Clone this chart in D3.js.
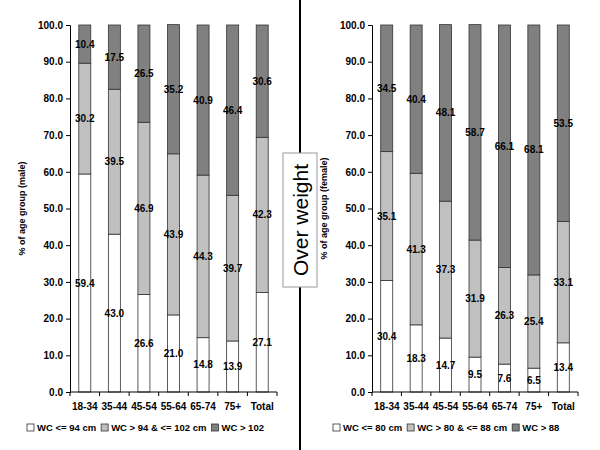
<!DOCTYPE html>
<html>
<head>
<meta charset="utf-8">
<script src="https://cdn.jsdelivr.net/npm/d3@7"></script>
<style>
  body { margin: 0; background: #fff; }
  svg { font-family: Arial, "Liberation Sans", sans-serif; }
</style>
</head>
<body>
<div class="graph"></div>
<script>
// age groups
const categories = ["18-34", "35-44", "45-54", "55-64", "65-74", "75+", "Total"]

// male waist circumference groups (% of age group)
const maleLow = [59.4, 43.0, 26.6, 21.0, 14.8, 13.9, 27.1]
const maleMid = [30.2, 39.5, 46.9, 43.9, 44.3, 39.7, 42.3]
const maleHigh = [10.4, 17.5, 26.5, 35.2, 40.9, 46.4, 30.6]

// female
const femaleLow = [30.4, 18.3, 14.7, 9.5, 7.6, 6.5, 13.4]
const femaleMid = [35.1, 41.3, 37.3, 31.9, 26.3, 25.4, 33.1]
const femaleHigh = [34.5, 40.4, 48.1, 58.7, 66.1, 68.1, 53.5]

const yTicks = [0, 10, 20, 30, 40, 50, 60, 70, 80, 90, 100]
const maleLegend = ["WC <= 94 cm", "WC > 94 & <= 102 cm", "WC > 102"]
const femaleLegend = ["WC <= 80 cm", "WC > 80 & <= 88 cm", "WC > 88"]
const fills = ["#ffffff", "#c0c0c0", "#808080"]

const svg = d3.select(".graph").append("svg")
    .attr("width", 600).attr("height", 450)

const plotTop = 25, plotBottom = 392

// divider line and box in the middle
svg.append("line")
    .attr("x1", 300).attr("x2", 300).attr("y1", 0).attr("y2", 450)
    .attr("stroke", "#000").attr("stroke-width", 2)

svg.append("rect")
    .attr("x", 283).attr("y", 153).attr("width", 34).attr("height", 134)
    .attr("fill", "#fff").attr("stroke", "#999")

svg.append("text")
    .attr("transform", "translate(307.5,220) rotate(-90)")
    .attr("text-anchor", "middle")
    .attr("font-size", 21)
    .text("Over weight")

function drawPanel(left, right, series, yTitle, legendNames, legendX) {
    const xScale = d3.scaleBand().domain(categories).range([left, right])
    const yScale = d3.scaleLinear().domain([0, 100]).range([plotBottom, plotTop])

    const rows = categories.map((c, i) => ({
        cat: c, low: series[0][i], mid: series[1][i], high: series[2][i]
    }))
    const stacked = d3.stack().keys(["low", "mid", "high"])(rows)

    const g = svg.append("g")
    const bw = 12

    stacked.forEach((layer, k) => {
        g.selectAll(null).data(layer).enter().append("rect")
            .attr("x", d => xScale(d.data.cat) + xScale.bandwidth() / 2 - bw / 2)
            .attr("y", d => yScale(d[1]))
            .attr("width", bw)
            .attr("height", d => yScale(d[0]) - yScale(d[1]))
            .attr("fill", fills[k])
            .attr("stroke", "#333")
            .attr("stroke-width", 0.8)
    })

    stacked.forEach((layer) => {
        g.selectAll(null).data(layer).enter().append("text")
            .attr("x", d => xScale(d.data.cat) + xScale.bandwidth() / 2)
            .attr("y", d => yScale((d[0] + d[1]) / 2))
            .attr("dy", "0.35em")
            .attr("text-anchor", "middle")
            .attr("font-size", 10)
            .attr("font-weight", "bold")
            .text(d => (d[1] - d[0]).toFixed(1))
    })

    // y axis
    const yAxis = g.append("g")
        .attr("transform", "translate(" + left + ",0)")
        .call(d3.axisLeft(yScale).tickValues(yTicks).tickFormat(d => d.toFixed(1)).tickSize(4).tickPadding(3))
    yAxis.select(".domain").attr("stroke", "#000")
    yAxis.selectAll("text").attr("font-size", 10).attr("font-weight", "bold")
        .attr("font-family", "Arial, 'Liberation Sans', sans-serif").attr("fill", "#000")

    // x axis with ticks between bands
    const xAxis = g.append("g")
        .attr("transform", "translate(0," + plotBottom + ")")
    xAxis.append("line")
        .attr("x1", left).attr("x2", right).attr("stroke", "#000")
    const edges = categories.map(c => xScale(c)).concat([right])
    xAxis.selectAll(null).data(edges).enter().append("line")
        .attr("x1", d => d).attr("x2", d => d)
        .attr("y1", 0).attr("y2", 4).attr("stroke", "#000")
    xAxis.selectAll(null).data(categories).enter().append("text")
        .attr("x", d => xScale(d) + xScale.bandwidth() / 2)
        .attr("y", 18)
        .attr("text-anchor", "middle")
        .attr("font-size", 10).attr("font-weight", "bold")
        .text(d => d)

    g.append("text")
        .attr("transform", "translate(" + (left - 45) + "," + ((plotTop + plotBottom) / 2) + ") rotate(-90)")
        .attr("text-anchor", "middle")
        .attr("font-size", 9).attr("font-weight", "bold")
        .text(yTitle)

    // legend
    const lg = g.append("g").attr("transform", "translate(" + legendX + ",431)")
    let x = 0
    legendNames.forEach((name, k) => {
        lg.append("rect")
            .attr("x", x).attr("y", -7).attr("width", 7).attr("height", 7)
            .attr("fill", fills[k]).attr("stroke", "#333").attr("stroke-width", 0.8)
        const t = lg.append("text")
            .attr("x", x + 10).attr("y", 0)
            .attr("font-size", 9.5).attr("font-weight", "bold")
            .text(name)
        x += 10 + t.node().getComputedTextLength() + 5
    })
}

drawPanel(70, 277, [maleLow, maleMid, maleHigh], "% of age group (male)", maleLegend, 27)
drawPanel(372, 578, [femaleLow, femaleMid, femaleHigh], "% of age group (female)", femaleLegend, 333)
</script>
</body>
</html>
